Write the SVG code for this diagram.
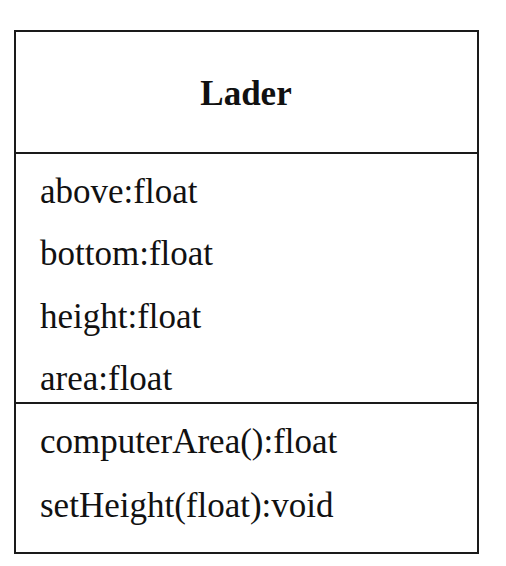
<svg xmlns="http://www.w3.org/2000/svg" width="506" height="566" viewBox="0 0 506 566">
<style>
.box{fill:#fff;stroke:#1a1a1a;stroke-width:2}
.div{stroke:#1a1a1a;stroke-width:2}
.t{font-family:"Liberation Serif","Times New Roman",serif;font-size:35px;fill:#111}
.b{font-weight:bold;text-anchor:middle}
</style>
<rect width="506" height="566" fill="#fff"/>
<g id="Lader">
<rect class="box" x="15" y="31" width="463" height="522"/>
<line class="div" x1="15" y1="153" x2="478" y2="153"/>
<line class="div" x1="15" y1="403" x2="478" y2="403"/>
<text class="t b" x="246" y="105">Lader</text>
<text class="t" x="40" y="203">above:float</text>
<text class="t" x="40" y="265">bottom:float</text>
<text class="t" x="40" y="328">height:float</text>
<text class="t" x="40" y="390">area:float</text>
<text class="t" x="40" y="453">computerArea():float</text>
<text class="t" x="40" y="517">setHeight(float):void</text>
</g>
<g id="connectors"/>
</svg>
